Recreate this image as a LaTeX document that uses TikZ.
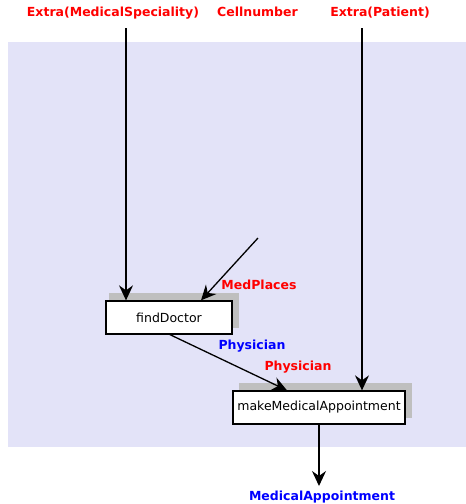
\documentclass[tikz,border=0pt]{standalone}
\usepackage{fontspec}
\setmainfont{DejaVu Sans}
\usetikzlibrary{arrows.meta}
\definecolor{panel}{HTML}{E3E3F8}
\definecolor{shadowgray}{HTML}{BFBFBF}
\definecolor{inred}{HTML}{FF0000}
\definecolor{outblue}{HTML}{0000FF}
\begin{document}
\begin{tikzpicture}[x=1pt,y=-1pt,
  flow/.style={line width=1.3pt,-{Stealth[length=15pt,width=14pt,inset=5pt]}},
  proc/.style={draw,line width=1.3pt,fill=white,minimum height=33pt,inner sep=0pt,font=\fontsize{12.5}{15}\selectfont},
  inlabel/.style={text=inred,font=\bfseries\fontsize{12.5}{15}\selectfont,inner sep=0pt},
  outlabel/.style={text=outblue,font=\bfseries\fontsize{12.5}{15}\selectfont,inner sep=0pt}]
\useasboundingbox (0,0) rectangle (466,504);
% panel
\fill[panel] (8,42) rectangle (466,447);
% process positions (invisible), used to place the drop shadows
\path (169,317.5) node[proc,draw=none,fill=none,minimum width=126pt] (fd) {\phantom{findDoctor}};
\path (319,407.5) node[proc,draw=none,fill=none,minimum width=172pt] (mma) {\phantom{makeMedicalAppointment}};
% drop shadows
\fill[shadowgray] ([shift={(4,-7)}]fd.south west) rectangle ([shift={(6,-7)}]fd.north east);
\fill[shadowgray] ([shift={(7,-7)}]mma.south west) rectangle ([shift={(6,-7)}]mma.north east);
% processes
\node[proc,minimum width=126pt] (fdbox) at (fd) {findDoctor};
\node[proc,minimum width=172pt] (mmabox) at (mma) {makeMedicalAppointment};
% labels
\node[inlabel] (spec) at (113,13) {Extra(MedicalSpeciality)};
\node[inlabel] (cell) at (257.5,12) {Cellnumber};
\node[inlabel] (pat) at (380,13) {Extra(Patient)};
\node[inlabel] (medp) at (259,285) {MedPlaces};
\node[outlabel] (phy1) at (252,346) {Physician};
\node[inlabel] (phy2) at (298,367) {Physician};
\node[outlabel] (appt) at (322,497) {MedicalAppointment};
% connectors
\coordinate (specsrc) at (126,28);
\coordinate (patsrc) at (362,28);
\coordinate (medsrc) at (258,238);
\coordinate (apptend) at (319,486);
\draw[flow] (specsrc) -- (fdbox.north -| specsrc);
\draw[flow] (patsrc) -- (mmabox.north -| patsrc);
\draw[flow] (medsrc) -- ([xshift=32pt]fdbox.north);
\draw[flow] ([xshift=1pt]fdbox.south) -- ([xshift=-32pt]mmabox.north);
\draw[flow] (mmabox.south) -- (apptend);
\end{tikzpicture}
\end{document}
